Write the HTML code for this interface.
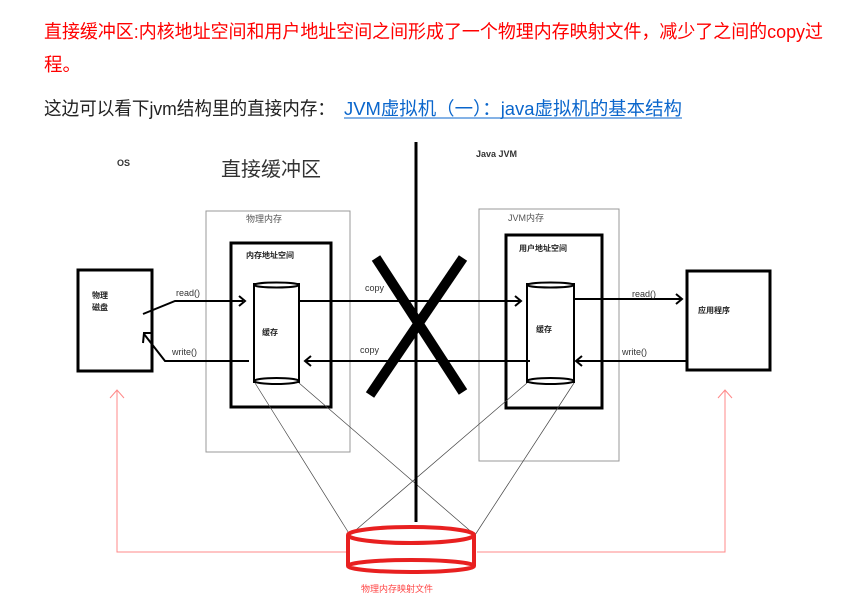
<!DOCTYPE html>
<html><head><meta charset="utf-8"><style>
html,body{margin:0;padding:0;background:#fff;width:859px;height:610px;overflow:hidden}
svg{display:block}
text{font-family:"Liberation Sans","Noto Sans CJK SC",sans-serif}
</style></head><body>
<svg width="859" height="610" viewBox="0 0 859 610" xmlns="http://www.w3.org/2000/svg">
<text x="44" y="38" font-size="18.5" fill="#f00" textLength="779" lengthAdjust="spacingAndGlyphs">直接缓冲区:内核地址空间和用户地址空间之间形成了一个物理内存映射文件，减少了之间的copy过</text>
<text x="44" y="71" font-size="18.5" fill="#f00">程。</text>
<text x="44" y="115" font-size="18.5" fill="#222" textLength="291" lengthAdjust="spacingAndGlyphs">这边可以看下jvm结构里的直接内存：</text>
<text x="344" y="115" font-size="18.5" fill="#0a66cc" textLength="338" lengthAdjust="spacingAndGlyphs">JVM虚拟机（一）：java虚拟机的基本结构</text>
<line x1="344" y1="118" x2="682" y2="118" stroke="#0a66cc" stroke-width="1"/>

<!-- labels -->
<text x="117" y="166" font-size="9" font-weight="bold" fill="#333">OS</text>
<text x="221" y="176" font-size="20" fill="#333">直接缓冲区</text>
<text x="476" y="157" font-size="9" font-weight="bold" fill="#333">Java JVM</text>

<!-- gray boxes -->
<rect x="206" y="211" width="144" height="241" fill="none" stroke="#999" stroke-width="1"/>
<text x="246" y="222" font-size="9" fill="#555">物理内存</text>
<rect x="479" y="209" width="140" height="252" fill="none" stroke="#999" stroke-width="1"/>
<text x="508" y="221" font-size="9" fill="#555">JVM内存</text>

<!-- thick boxes -->
<rect x="231" y="243" width="100" height="164" fill="none" stroke="#000" stroke-width="3"/>
<text x="246" y="258" font-size="8" font-weight="bold" fill="#222">内存地址空间</text>
<rect x="506" y="235" width="96" height="173" fill="none" stroke="#000" stroke-width="3"/>
<text x="519" y="251" font-size="8" font-weight="bold" fill="#222">用户地址空间</text>

<rect x="78" y="270" width="74" height="101" fill="none" stroke="#000" stroke-width="3"/>
<text x="92" y="298" font-size="8" font-weight="bold" fill="#222">物理</text>
<text x="92" y="310" font-size="8" font-weight="bold" fill="#222">磁盘</text>
<rect x="687" y="271" width="83" height="99" fill="none" stroke="#000" stroke-width="3"/>
<text x="698" y="313" font-size="8" font-weight="bold" fill="#222">应用程序</text>

<!-- cylinders -->
<g fill="#fff" stroke="#000" stroke-width="2">
<rect x="254" y="284" width="45" height="98"/>
<ellipse cx="276.5" cy="285" rx="22.5" ry="2.5"/>
<ellipse cx="276.5" cy="381" rx="22.5" ry="3"/>
<rect x="527" y="284" width="47" height="98"/>
<ellipse cx="550.5" cy="285" rx="23.5" ry="2.5"/>
<ellipse cx="550.5" cy="381" rx="23.5" ry="3"/>
</g>
<text x="262" y="335" font-size="8" font-weight="bold" fill="#222">缓存</text>
<text x="536" y="332" font-size="8" font-weight="bold" fill="#222">缓存</text>

<!-- arrows -->
<g fill="none" stroke="#000" stroke-width="2">
<polyline points="143,314 175,301 243,301"/><polyline points="239,296 245,301 239,306"/>
<polyline points="249,361 165,361 144,334"/><polyline points="143,343 144,333 152,333"/>
<line x1="299" y1="301" x2="520" y2="301"/><polyline points="515,296 521,301 515,306"/>
<line x1="305" y1="361" x2="530" y2="361"/><polyline points="311,356 305,361 311,366"/>
<line x1="574" y1="299" x2="681" y2="299"/><polyline points="676,294 682,299 676,304"/>
<line x1="576" y1="361" x2="686" y2="361"/><polyline points="582,356 576,361 582,366"/>
</g>
<text x="176" y="296" font-size="9" fill="#333">read()</text>
<text x="172" y="355" font-size="9" fill="#333">write()</text>
<text x="365" y="291" font-size="9" fill="#333">copy</text>
<text x="360" y="353" font-size="9" fill="#333">copy</text>
<text x="632" y="297" font-size="9" fill="#333">read()</text>
<text x="622" y="355" font-size="9" fill="#333">write()</text>

<!-- thin lines to disk -->
<g stroke="#444" stroke-width="0.7">
<line x1="255" y1="383" x2="350" y2="535"/>
<line x1="299" y1="383" x2="475" y2="535"/>
<line x1="527" y1="383" x2="350" y2="535"/>
<line x1="574" y1="383" x2="475" y2="535"/>
</g>

<!-- vertical line and X -->
<line x1="416" y1="142" x2="416" y2="522" stroke="#000" stroke-width="3"/>
<line x1="376" y1="258" x2="463" y2="392" stroke="#000" stroke-width="10"/>
<line x1="463" y1="258" x2="370" y2="395" stroke="#000" stroke-width="10"/>

<!-- pink arrows -->
<g fill="none" stroke="#f88" stroke-width="1">
<polyline points="117,390 117,552 348,552"/>
<polyline points="477,552 725,552 725,390"/>
<polyline points="110,398 117,390 124,398"/>
<polyline points="718,398 725,390 732,398"/>
</g>

<!-- red disk -->
<g fill="none" stroke="#e82020" stroke-width="4">
<ellipse cx="411" cy="535" rx="63" ry="8"/>
<ellipse cx="411" cy="566" rx="63" ry="6"/>
<line x1="348" y1="535" x2="348" y2="566"/>
<line x1="474" y1="535" x2="474" y2="566"/>
</g>
<text x="361" y="592" font-size="9" fill="#f44">物理内存映射文件</text>
</svg>
</body></html>
